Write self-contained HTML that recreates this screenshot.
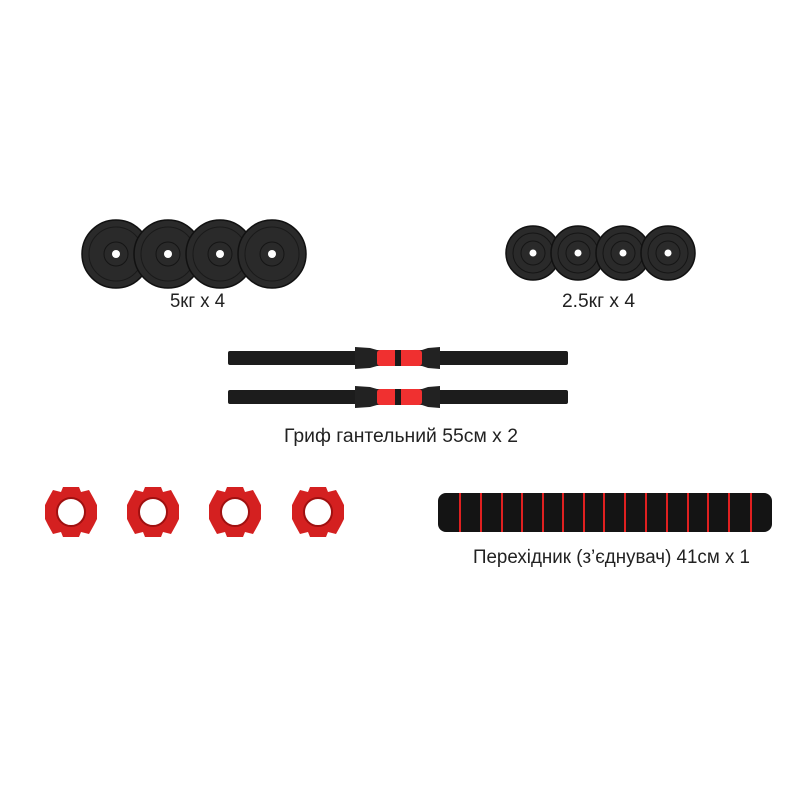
<!DOCTYPE html>
<html><head><meta charset="utf-8"><style>
html,body{margin:0;padding:0;background:#fff;}
svg{display:block}
text{font-family:"Liberation Sans","DejaVu Sans",sans-serif;font-size:19px;fill:#222;}
</style></head><body>
<svg width="800" height="800" viewBox="0 0 800 800" xmlns="http://www.w3.org/2000/svg">
<defs>
<g id="p5">
<circle r="34" fill="#2a2a2a" stroke="#111" stroke-width="1.5"/>
<circle r="27" fill="none" stroke="#1a1a1a" stroke-width="1"/>
<circle r="12" fill="none" stroke="#151515" stroke-width="1"/>
<circle r="4" fill="#fff"/>
</g>
<g id="p25">
<circle r="27" fill="#2a2a2a" stroke="#111" stroke-width="1.5"/>
<circle r="20" fill="none" stroke="#151515" stroke-width="1"/>
<circle r="12" fill="none" stroke="#151515" stroke-width="1"/>
<circle r="3.5" fill="#fff"/>
</g>
<g id="bar">
<rect x="228" y="-7" width="340" height="14" rx="2" fill="#1c1c1c"/>
<path d="M355,-11 L370,-10 L377,-8 L422,-8 L428,-10 L440,-11 L440,11 L428,10 L422,8 L377,8 L370,10 L355,11Z" fill="#222"/>
<rect x="377" y="-8" width="45" height="16" rx="3" fill="#f03030"/>
<rect x="395" y="-8" width="6" height="16" fill="#1a1a1a"/>
</g>
<g id="col">
<path d="M-8,-25 L8,-25 L10,-20 L18,-22 L23,-13 L26,-7 L26,7 L23,13 L18,22 L10,20 L8,25 L-8,25 L-10,20 L-18,22 L-23,13 L-26,7 L-26,-7 L-23,-13 L-18,-22 L-10,-20Z" fill="#d42020"/>
<circle r="14" fill="#fff" stroke="#a01010" stroke-width="2"/>
</g>
</defs>
<use href="#p5" x="116" y="254"/>
<use href="#p5" x="168" y="254"/>
<use href="#p5" x="220" y="254"/>
<use href="#p5" x="272" y="254"/>
<text x="170" y="307" textLength="55" lengthAdjust="spacingAndGlyphs">5кг x 4</text>
<use href="#p25" x="533" y="253"/>
<use href="#p25" x="578" y="253"/>
<use href="#p25" x="623" y="253"/>
<use href="#p25" x="668" y="253"/>
<text x="562" y="307" textLength="73" lengthAdjust="spacingAndGlyphs">2.5кг x 4</text>
<use href="#bar" x="0" y="358"/>
<use href="#bar" x="0" y="397"/>
<text x="284" y="442" textLength="234" lengthAdjust="spacingAndGlyphs">Гриф гантельний 55см x 2</text>
<use href="#col" x="71" y="512"/>
<use href="#col" x="153" y="512"/>
<use href="#col" x="235" y="512"/>
<use href="#col" x="318" y="512"/>
<rect x="438" y="493" width="334" height="39" rx="8" fill="#141414"/>
<g fill="#e02020">
<rect x="459" y="493" width="2" height="39"/><rect x="480" y="493" width="2" height="39"/>
<rect x="501" y="493" width="2" height="39"/><rect x="521" y="493" width="2" height="39"/>
<rect x="542" y="493" width="2" height="39"/><rect x="562" y="493" width="2" height="39"/>
<rect x="583" y="493" width="2" height="39"/><rect x="603" y="493" width="2" height="39"/>
<rect x="624" y="493" width="2" height="39"/><rect x="645" y="493" width="2" height="39"/>
<rect x="666" y="493" width="2" height="39"/><rect x="687" y="493" width="2" height="39"/>
<rect x="707" y="493" width="2" height="39"/><rect x="728" y="493" width="2" height="39"/>
<rect x="750" y="493" width="2" height="39"/>
</g>
<text x="473" y="563" textLength="277" lengthAdjust="spacingAndGlyphs">Перехідник (з’єднувач) 41см x 1</text>
</svg>
</body></html>
